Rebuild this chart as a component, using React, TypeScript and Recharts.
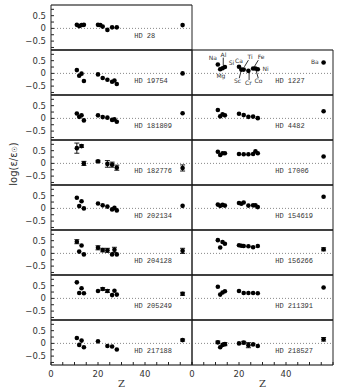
import React from 'react';
import { ScatterChart, Scatter, XAxis, YAxis, ReferenceLine, ReferenceDot, ErrorBar } from 'recharts';

// ---------- data ----------
const ELEMENTS = ['Na', 'Mg', 'Al', 'Si', 'Ca', 'Sc', 'Ti', 'Cr', 'Fe', 'Co', 'Ni', 'Ba'];
const ATOMIC_NUMBER = [11, 12, 13, 14, 20, 21, 22, 24, 26, 27, 28, 56];

const X_TICKS = [0, 5, 10, 15, 20, 25, 30, 35, 40, 45, 50, 55, 60];
const X_TICK_LABELS = [0, 20, 40];
const Y_TICKS = [-0.75, -0.5, -0.25, 0, 0.25, 0.5, 0.75];
const Y_TICK_LABELS = [-0.5, 0, 0.5];

// log(eps/eps_sun) per element (aligned with ELEMENTS), null = not measured
const HD28 = [0.14, 0.09, 0.13, 0.14, 0.14, 0.13, 0.07, -0.06, 0.04, null, 0.04, 0.13];
const HD19754 = [0.13, -0.09, -0.01, -0.3, -0.04, null, -0.18, -0.25, -0.33, -0.28, -0.42, 0.0];
const HD181809 = [0.19, 0.06, 0.12, -0.08, 0.12, null, 0.05, 0.03, -0.06, -0.04, -0.13, 0.2];
const HD182776 = [0.6, null, 0.68, 0.0, 0.08, null, null, -0.02, -0.05, null, -0.17, -0.18];
const HD182776_ERR = [0.2, null, 0.05, 0.08, 0.04, null, null, 0.13, 0.1, null, 0.1, 0.12];
const HD202134 = [0.42, 0.09, 0.28, 0.0, 0.19, null, 0.12, 0.07, -0.04, 0.02, -0.08, 0.1];
const HD204128 = [0.46, 0.07, 0.31, -0.04, 0.22, null, 0.13, 0.12, -0.04, 0.14, -0.04, 0.1];
const HD204128_ERR = [0.08, null, null, null, 0.08, null, 0.07, 0.08, null, 0.1, null, 0.1];
const HD205249 = [0.63, 0.21, 0.4, 0.2, 0.29, null, 0.37, 0.29, 0.13, 0.3, 0.15, 0.18];
const HD205249_ERR = [null, null, null, null, null, null, 0.05, 0.06, null, null, null, 0.06];
const HD217188 = [0.21, -0.06, 0.11, -0.15, 0.08, null, null, -0.1, -0.12, null, -0.24, 0.13];
const HD217188_ERR = [null, null, null, null, null, null, null, null, null, null, null, 0.04];

const HD1227 = [0.35, 0.16, 0.2, 0.25, 0.26, 0.15, 0.15, 0.1, 0.19, 0.19, 0.16, 0.43];
const HD4482 = [0.33, 0.08, 0.16, 0.12, 0.18, null, 0.13, 0.06, 0.07, null, 0.01, 0.28];
const HD17006 = [0.46, 0.33, 0.4, 0.4, 0.37, null, 0.36, 0.36, 0.37, 0.48, 0.4, 0.27];
const HD154619 = [0.15, 0.1, 0.14, 0.11, 0.21, 0.18, 0.23, 0.11, 0.12, 0.12, 0.05, 0.46];
const HD156266 = [0.52, 0.23, 0.45, 0.38, 0.32, 0.3, 0.29, 0.28, 0.24, null, 0.29, 0.16];
const HD156266_ERR = [null, null, null, null, null, null, null, null, null, null, null, 0.06];
const HD211391 = [0.46, 0.15, 0.23, 0.28, 0.29, null, 0.21, 0.21, 0.21, null, 0.2, 0.43];
const HD218527 = [0.04, -0.15, -0.06, -0.03, 0.0, null, 0.03, -0.07, -0.04, null, -0.1, 0.16];
const HD218527_ERR = [0.05, null, null, 0.06, null, null, 0.05, 0.1, null, null, null, 0.07];

const LEFT_NAMES = ['HD 28', 'HD 19754', 'HD 181809', 'HD 182776', 'HD 202134', 'HD 204128', 'HD 205249', 'HD 217188'];
const LEFT_VALUES = [HD28, HD19754, HD181809, HD182776, HD202134, HD204128, HD205249, HD217188];
const LEFT_ERRORS = [null, null, null, HD182776_ERR, null, HD204128_ERR, HD205249_ERR, HD217188_ERR];

const RIGHT_NAMES = ['HD 1227', 'HD 4482', 'HD 17006', 'HD 154619', 'HD 156266', 'HD 211391', 'HD 218527'];
const RIGHT_VALUES = [HD1227, HD4482, HD17006, HD154619, HD156266, HD211391, HD218527];
const RIGHT_ERRORS = [null, null, null, null, HD156266_ERR, null, HD218527_ERR];

// element annotations in the HD 1227 panel
const ANNOT_TEXT = ['Na', 'Al', 'Si', 'Mg', 'Ca', 'Ti', 'Fe', 'Ni', 'Sc', 'Cr', 'Co', 'Ba'];
const ANNOT_Z = [8.9, 13.4, 16.8, 12.3, 20.0, 24.7, 29.4, 31.3, 19.4, 24.0, 28.3, 52.3];
const ANNOT_V = [0.6, 0.72, 0.43, -0.1, 0.49, 0.65, 0.65, 0.19, -0.3, -0.36, -0.3, 0.44];
const LEADER_Z1 = [13.3, 24.0, 28.2, 20.9, 24.3, 27.2];
const LEADER_V1 = [0.62, 0.52, 0.52, 0.1, 0.1, 0.14];
const LEADER_Z2 = [13.3, 22.3, 26.5, 20.1, 24.3, 28.2];
const LEADER_V2 = [0.3, 0.26, 0.26, -0.19, -0.26, -0.19];

// ---------- layout ----------
const PW = 141;
const PH = 45;
const COL2_X = 191.5;
const ROW0_Y = 4.5;
const M = 4;
const Y_AXIS_W = 50;
const X_DOMAIN = [0, 60];
const Y_DOMAIN = [-0.85, 0.92];
const LABEL_Z = 35.4;
const LABEL_V = -0.28;

const dot = (p: any) => <circle cx={p.cx} cy={p.cy} r={2.3} fill="#000" />;

function fmtY(v: number) {
  if (!Y_TICK_LABELS.includes(v)) return '';
  if (v === 0) return '0';
  return v < 0 ? '\u2212' + Math.abs(v) : String(v);
}
function fmtX(v: number) {
  return X_TICK_LABELS.includes(v) ? String(v) : '';
}

function Panel({ name, values, errors, col, row, annotate }: any) {
  const data = ATOMIC_NUMBER.map((z, i) => ({ z, v: values[i], err: errors ? errors[i] : null, el: ELEMENTS[i] })).filter(
    (d) => d.v !== null
  );
  const isLeft = col === 0;
  const isBottom = row === 7;
  // axes need a non-zero size to be drawn at all
  const yAxisW = isLeft ? Y_AXIS_W : 1;
  const mLeft = isLeft ? 0 : M - 1;
  const xAxisH = isBottom ? 24 : 1;
  const mBottom = isBottom ? 2 : M - 1;
  const width = mLeft + yAxisW + PW + 1 + (M - 1);
  const height = (M - 1) + 1 + PH + xAxisH + mBottom;
  const left = isLeft ? 0.5 : COL2_X - M;
  const top = ROW0_Y + row * PH - M;
  const hStroke = { stroke: '#000', strokeWidth: 1.2 };
  const vStroke = { stroke: '#222', strokeWidth: 1 };
  const tickStroke = { stroke: '#222', strokeWidth: 1 };
  const tickFont = { fontSize: 8.5, fill: '#333', fontFamily: 'DejaVu Sans' };
  return (
    <div style={{ position: 'absolute', left, top }}>
      <ScatterChart width={width} height={height} margin={{ top: M - 1, right: M - 1, bottom: mBottom, left: mLeft }}>
        <XAxis
          xAxisId="b"
          type="number"
          dataKey="z"
          domain={X_DOMAIN}
          ticks={X_TICKS}
          interval={0}
          orientation="bottom"
          height={xAxisH}
          tickSize={-3}
          tickMargin={9}
          tick={isBottom ? tickFont : false}
          tickFormatter={fmtX}
          axisLine={hStroke}
          tickLine={tickStroke}
          allowDataOverflow
          label={
            isBottom
              ? { value: 'Z', position: 'insideBottom', offset: 2, fontSize: 10, fontFamily: 'DejaVu Serif', fill: '#333' }
              : undefined
          }
        />
        <XAxis
          xAxisId="t"
          type="number"
          domain={X_DOMAIN}
          ticks={X_TICKS}
          interval={0}
          orientation="top"
          height={1}
          tickSize={-3}
          tick={false}
          axisLine={hStroke}
          tickLine={tickStroke}
          allowDataOverflow
        />
        <YAxis
          yAxisId="l"
          type="number"
          dataKey="v"
          domain={Y_DOMAIN}
          ticks={Y_TICKS}
          interval={0}
          orientation="left"
          width={yAxisW}
          tickSize={-3}
          tickMargin={8}
          tick={isLeft ? tickFont : false}
          tickFormatter={fmtY}
          axisLine={vStroke}
          tickLine={tickStroke}
          allowDataOverflow
        />
        <YAxis
          yAxisId="r"
          type="number"
          domain={Y_DOMAIN}
          ticks={Y_TICKS}
          interval={0}
          orientation="right"
          width={1}
          tickSize={-3}
          tick={false}
          axisLine={vStroke}
          tickLine={tickStroke}
          allowDataOverflow
        />
        <ReferenceLine xAxisId="b" yAxisId="l" y={0} stroke="#888" strokeDasharray="1 2" />
        {annotate &&
          LEADER_Z1.map((z, i) => (
            <ReferenceLine
              key={'ld' + i}
              xAxisId="b"
              yAxisId="l"
              segment={[
                { x: z, y: LEADER_V1[i] },
                { x: LEADER_Z2[i], y: LEADER_V2[i] },
              ]}
              stroke="#333"
            />
          ))}
        <Scatter xAxisId="b" yAxisId="l" data={data} shape={dot} isAnimationActive={false}>
          <ErrorBar dataKey="err" direction="y" width={2.5} stroke="#000" strokeWidth={0.9} />
        </Scatter>
        <ReferenceDot
          xAxisId="b"
          yAxisId="l"
          x={LABEL_Z}
          y={LABEL_V}
          r={0}
          fill="none"
          stroke="none"
          label={{ value: name, position: 'right', offset: 0, fontSize: 7, fontFamily: 'Liberation Mono', fill: '#333' }}
        />
        {annotate &&
          ANNOT_TEXT.map((t, i) => (
            <ReferenceDot
              key={'an' + i}
              xAxisId="b"
              yAxisId="l"
              x={ANNOT_Z[i]}
              y={ANNOT_V[i]}
              r={0}
              fill="none"
              stroke="none"
              label={{ value: t, position: 'center', fontSize: 6, fontFamily: 'DejaVu Sans', fill: '#333' }}
            />
          ))}
      </ScatterChart>
    </div>
  );
}

export default function App() {
  return (
    <div style={{ position: 'absolute', left: 0, top: 0, width: 340, height: 390, background: '#fff', overflow: 'hidden' }}>
      {LEFT_NAMES.map((n, i) => (
        <Panel key={n} name={n} values={LEFT_VALUES[i]} errors={LEFT_ERRORS[i]} col={0} row={i} annotate={false} />
      ))}
      {RIGHT_NAMES.map((n, i) => (
        <Panel key={n} name={n} values={RIGHT_VALUES[i]} errors={RIGHT_ERRORS[i]} col={1} row={i + 1} annotate={i === 0} />
      ))}
      <svg style={{ position: 'absolute', left: 0, top: 0 }} width={30} height={390}>
        <text
          transform="translate(13,164) rotate(-90)"
          textAnchor="middle"
          dominantBaseline="central"
          fontSize={10}
          fontFamily="DejaVu Sans"
          fill="#333"
        >
          log(ε/ε
          <tspan fontSize={7} dy={2}>
            ☉
          </tspan>
          <tspan dy={-2}>)</tspan>
        </text>
      </svg>
    </div>
  );
}
